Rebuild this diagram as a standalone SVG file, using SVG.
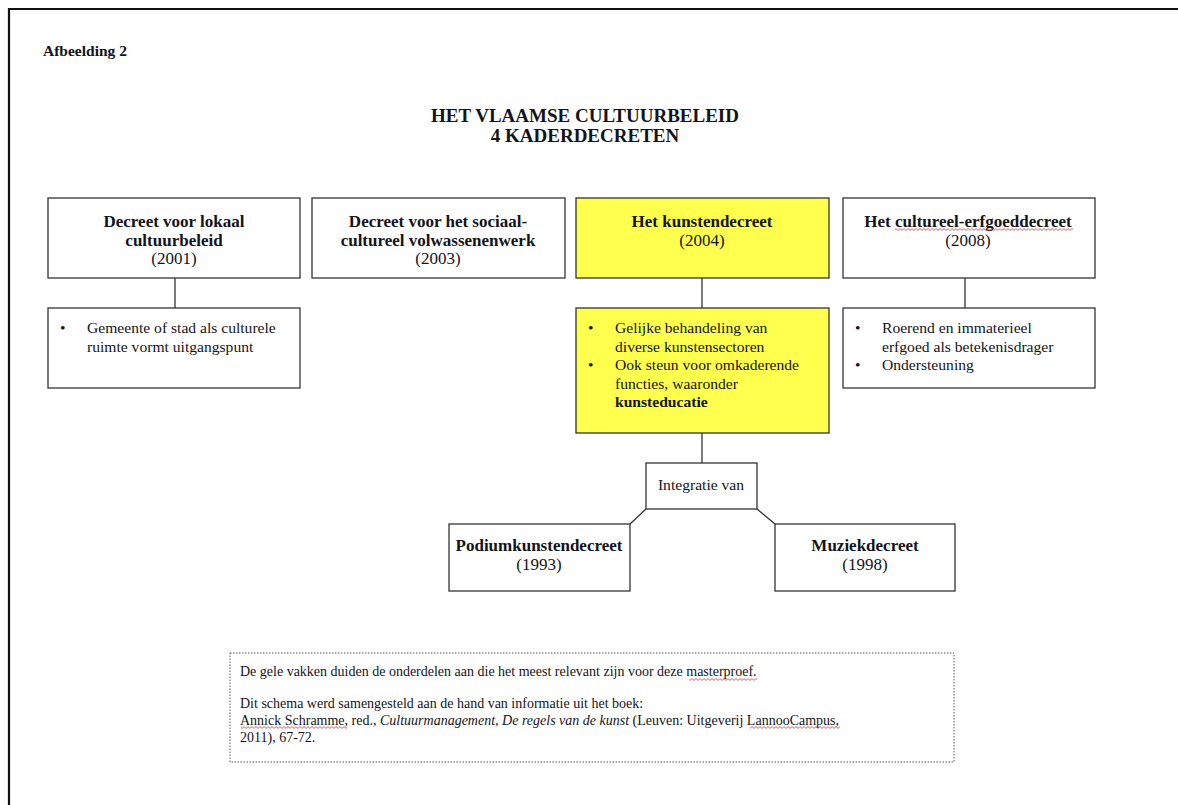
<svg xmlns="http://www.w3.org/2000/svg" width="1178" height="805" viewBox="0 0 1178 805">
<defs>
<style>
.t{font-family:"Liberation Serif","Times New Roman",serif;fill:#141418}
.b{font-weight:bold}
.h{font-size:17px;text-anchor:middle}
.s{font-size:15.6px}
.n{font-size:14px}
.box{fill:#fff;stroke:#333;stroke-width:1.3}
.y{fill:#ffff4d}
.c{stroke:#333;stroke-width:1.3;fill:none}
.wv{fill:url(#wave)}
</style>
<pattern id="wave" width="4" height="3" patternUnits="userSpaceOnUse">
<path d="M0 0.6 L2 2.4 L4 0.6" fill="none" stroke="#d43a3a" stroke-width="0.8"/>
</pattern>
</defs>
<rect width="1178" height="805" fill="#fff"/>
<path d="M9 805 V9 H1178" fill="none" stroke="#111" stroke-width="2.2"/>
<text class="t b" x="43" y="56" font-size="15.5">Afbeelding 2</text>
<text class="t b" x="585" y="122" font-size="19" text-anchor="middle">HET VLAAMSE CULTUURBELEID</text>
<text class="t b" x="585" y="142" font-size="19" text-anchor="middle">4 KADERDECRETEN</text>

<g id="connectors">
<line class="c" x1="175" y1="278" x2="175" y2="308"/>
<line class="c" x1="702" y1="278" x2="702" y2="308"/>
<line class="c" x1="965" y1="278" x2="965" y2="308"/>
<line class="c" x1="702" y1="433" x2="702" y2="463"/>
<line class="c" x1="646" y1="509" x2="630" y2="524"/>
<line class="c" x1="757" y1="509" x2="775" y2="524"/>
</g>

<g id="n1">
<rect class="box" x="48" y="198" width="252" height="80"/>
<text class="t b h" x="174" y="227">Decreet voor lokaal</text>
<text class="t b h" x="174" y="246">cultuurbeleid</text>
<text class="t h" x="174" y="264">(2001)</text>
</g>
<g id="n2">
<rect class="box" x="312" y="198" width="253" height="80"/>
<text class="t b h" x="438" y="227">Decreet voor het sociaal-</text>
<text class="t b h" x="438" y="246">cultureel volwassenenwerk</text>
<text class="t h" x="438" y="264">(2003)</text>
</g>
<g id="n3">
<rect class="box y" x="576" y="198" width="253" height="80"/>
<text class="t b h" x="702" y="227">Het kunstendecreet</text>
<text class="t h" x="702" y="246">(2004)</text>
</g>
<g id="n4">
<rect class="box" x="843" y="198" width="252" height="80"/>
<text class="t b h" x="968" y="227">Het cultureel-erfgoeddecreet</text>
<text class="t h" x="968" y="246">(2008)</text>
<rect class="wv" x="895" y="228" width="178" height="3"/>
</g>
<g id="n5">
<rect class="box" x="48" y="308" width="252" height="80"/>
<text class="t s" x="60" y="333">•</text>
<text class="t s" x="87" y="333">Gemeente of stad als culturele</text>
<text class="t s" x="87" y="352">ruimte vormt uitgangspunt</text>
</g>
<g id="n6">
<rect class="box y" x="576" y="308" width="253" height="125"/>
<text class="t s" x="588" y="333">•</text>
<text class="t s" x="615" y="333">Gelijke behandeling van</text>
<text class="t s" x="615" y="352">diverse kunstensectoren</text>
<text class="t s" x="588" y="370">•</text>
<text class="t s" x="615" y="370">Ook steun voor omkaderende</text>
<text class="t s" x="615" y="389">functies, waaronder</text>
<text class="t s b" x="615" y="407">kunsteducatie</text>
</g>
<g id="n7">
<rect class="box" x="843" y="308" width="252" height="80"/>
<text class="t s" x="855" y="333">•</text>
<text class="t s" x="882" y="333">Roerend en immaterieel</text>
<text class="t s" x="882" y="352">erfgoed als betekenisdrager</text>
<text class="t s" x="855" y="370">•</text>
<text class="t s" x="882" y="370">Ondersteuning</text>
</g>
<g id="n8">
<rect class="box" x="646" y="463" width="111" height="46"/>
<text class="t s" x="701" y="490" text-anchor="middle">Integratie van</text>
</g>
<g id="n9">
<rect class="box" x="449" y="524" width="181" height="67"/>
<text class="t b h" x="539" y="551">Podiumkunstendecreet</text>
<text class="t h" x="539" y="570">(1993)</text>
</g>
<g id="n10">
<rect class="box" x="775" y="524" width="180" height="67"/>
<text class="t b h" x="865" y="551">Muziekdecreet</text>
<text class="t h" x="865" y="570">(1998)</text>
</g>
<g id="note">
<rect x="230" y="653" width="724" height="109" fill="#fff" stroke="#555" stroke-width="1" stroke-dasharray="1.5 1.5"/>
<text class="t n" x="240" y="676">De gele vakken duiden de onderdelen aan die het meest relevant zijn voor deze masterproef.</text>
<text class="t n" x="240" y="708">Dit schema werd samengesteld aan de hand van informatie uit het boek:</text>
<text class="t n" x="240" y="725">Annick Schramme, red., <tspan font-style="italic">Cultuurmanagement, De regels van de kunst</tspan> (Leuven: Uitgeverij LannooCampus,</text>
<text class="t n" x="240" y="742">2011), 67-72.</text>
<rect class="wv" x="689" y="678" width="68" height="3"/>
<rect class="wv" x="241" y="726" width="106" height="3"/>
<rect class="wv" x="750" y="726" width="90" height="3"/>
</g>
</svg>
